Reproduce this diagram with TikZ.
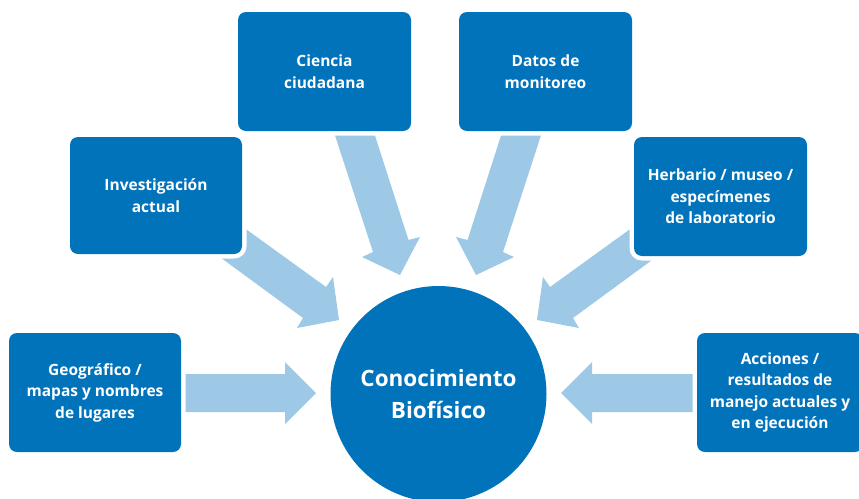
\documentclass[tikz,border=0pt]{standalone}
\usepackage{fontspec}
\setmainfont{Open Sans}
\definecolor{boxblue}{RGB}{0,115,187}
\definecolor{arrowblue}{RGB}{157,201,230}
\begin{document}
\begin{tikzpicture}[x=1pt,y=-1pt,
  srcbox/.style={fill=boxblue, rounded corners=8pt, text=white, align=center,
    inner sep=0pt, font=\bfseries\fontsize{15.5}{21.5}\selectfont,
    preaction={draw=white, line width=9pt}},
  bigarrow/.style={fill=arrowblue, draw=none}]
\useasboundingbox (0,0) rectangle (859,498);
% arrows (drawn first, under the boxes)
\fill[arrowblue] (170,374) -- (285,374) -- (285,362) -- (316,393) -- (285,424) -- (285,412) -- (170,412) -- cycle;
\fill[arrowblue] (705,374) -- (592,374) -- (592,362) -- (561,393) -- (592,424) -- (592,412) -- (705,412) -- cycle;
\fill[arrowblue] (330,120) -- (370,120) -- (408.5,240) -- (420,237) -- (400,275) -- (362,257) -- (373,252) -- cycle;
\fill[arrowblue] (546,120) -- (506,120) -- (467.5,240) -- (456,237) -- (476,275) -- (514,257) -- (503,252) -- cycle;
\fill[arrowblue] (207,201) -- (326,287) -- (333,277) -- (339,320) -- (297,328) -- (303,318) -- (183,230) -- cycle;
\fill[arrowblue] (669,201) -- (550,287) -- (543,277) -- (537,320) -- (579,328) -- (573,318) -- (693,230) -- cycle;
% boxes
\node[srcbox, minimum width=172pt, minimum height=119pt] (geo) at (95,392.5) {Geográfico /\\mapas y nombres\\de lugares};
\node[srcbox, minimum width=172pt, minimum height=117pt] (inv) at (156,195.5) {Investigación\\actual};
\node[srcbox, minimum width=173pt, minimum height=119pt] (cie) at (324.5,71.5) {Ciencia\\ciudadana};
\node[srcbox, minimum width=173pt, minimum height=119pt] (dat) at (545.5,71.5) {Datos de\\monitoreo};
\node[srcbox, minimum width=173pt, minimum height=119pt] (her) at (720.5,196.5) {Herbario / museo /\\especímenes\\de laboratorio};
\node[srcbox, minimum width=166pt, minimum height=119pt] (acc) at (780,392.5) {Acciones /\\resultados de\\manejo actuales y\\en ejecución};
% centre
\node[circle, fill=boxblue, minimum size=216pt, inner sep=0pt, text=white, align=center,
  font=\bfseries\fontsize{22.5}{32}\selectfont] (bio) at (438.5,394) {Conocimiento\\Biofísico};
\end{tikzpicture}
\end{document}
